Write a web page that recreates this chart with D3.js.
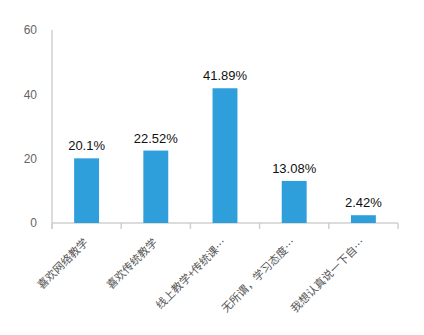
<!DOCTYPE html>
<html>
<head>
<meta charset="utf-8">
<script src="https://cdn.jsdelivr.net/npm/d3@7"></script>
<style>
  body { margin: 0; background: #fff; }
  text { font-family: "Liberation Sans", Arial, sans-serif; }
  .cat text { font-family: "Noto Sans CJK SC", sans-serif; }
</style>
</head>
<body>
<div id="chart"></div>
<script>
let width = 424,
    height = 335,
    margin = ({ top: 30, right: 26, bottom: 113, left: 52 });

const categories = ["喜欢网络教学", "喜欢传统教学", "线上教学+传统课…", "无所谓，学习态度…", "我想认真说一下自…"];
const values = [20.1, 22.52, 41.89, 13.08, 2.42];
const yTicks = [0, 20, 40, 60];

const svg = d3.select("#chart")
  .append("svg")
  .attr("width", width)
  .attr("height", height);

let x = d3.scaleBand()
  .domain(categories)
  .range([margin.left, width - margin.right])
  .paddingInner(0.64)
  .paddingOuter(0.32);

let y = d3.scaleLinear()
  .domain([0, 60])
  .range([height - margin.bottom + 1, margin.top]);

// y axis: just a line + labels
svg.append("g")
  .attr("transform", `translate(${margin.left},0)`)
  .call(d3.axisLeft(y).tickValues(yTicks).tickSize(0).tickPadding(15))
  .call(g => g.select(".domain").attr("stroke", "#d0d0d0").attr("stroke-width", 1.5)
    .attr("d", `M0,${margin.top}V${y(0) + 6}`))
  .call(g => g.selectAll("text").attr("fill", "#666").attr("font-size", 12));

// x axis with ticks between the bands
let step = x.step();
let edges = d3.range(categories.length + 1).map(i => margin.left + i * step);

let xg = svg.append("g").attr("class", "cat");
xg.append("line")
  .attr("x1", margin.left).attr("x2", width - margin.right)
  .attr("y1", y(0)).attr("y2", y(0))
  .attr("stroke", "#d0d0d0").attr("stroke-width", 1.5);

xg.selectAll(".tk")
  .data(edges)
  .join("line")
  .attr("x1", d => d).attr("x2", d => d)
  .attr("y1", y(0)).attr("y2", y(0) + 6)
  .attr("stroke", "#d0d0d0").attr("stroke-width", 1.5);

xg.selectAll(".lbl")
  .data(categories)
  .join("text")
  .attr("transform", d => `translate(${x(d) + x.bandwidth() / 2},${y(0) + 18}) rotate(-45)`)
  .attr("text-anchor", "end")
  .attr("dominant-baseline", "middle")
  .attr("fill", "#555")
  .attr("font-size", 11)
  .text(d => d);

// bars
svg.selectAll(".bar")
  .data(values)
  .join("rect")
  .attr("x", (d, i) => x(categories[i]))
  .attr("y", d => y(d))
  .attr("width", x.bandwidth())
  .attr("height", d => y(0) - y(d))
  .attr("fill", "#2e9fdb");

// value labels
svg.selectAll(".val")
  .data(values)
  .join("text")
  .attr("x", (d, i) => x(categories[i]) + x.bandwidth() / 2)
  .attr("y", d => y(d) - 8)
  .attr("text-anchor", "middle")
  .attr("fill", "#111")
  .attr("font-size", 13)
  .text(d => d + "%");
</script>
</body>
</html>
